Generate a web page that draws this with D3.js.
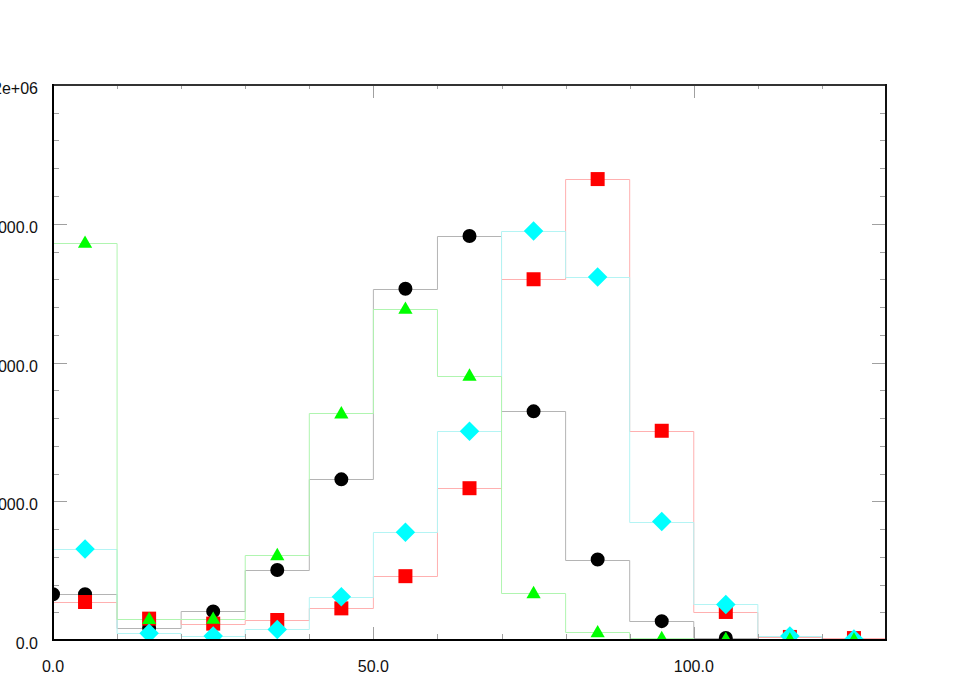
<!DOCTYPE html>
<html>
<head>
<meta charset="utf-8">
<script src="https://cdn.jsdelivr.net/npm/d3@7"></script>
<style>
  body { margin: 0; background: #fff; }
  svg { display: block; }
  .tick-label { font-family: "Liberation Sans", Arial, sans-serif; font-size: 16px; fill: #111; }
</style>
</head>
<body>
<svg id="chart" width="969" height="691"></svg>
<script>
// bin edges and centres (width 10, 0..130)
var binEdges = [0, 10, 20, 30, 40, 50, 60, 70, 80, 90, 100, 110, 120, 130];
var binCenters = [5, 15, 25, 35, 45, 55, 65, 75, 85, 95, 105, 115, 125];

var blackValues = [165000, 44000, 103000, 252000, 579000, 1266000, 1456000, 824000, 290000, 68000, 7000, 2000, 1000];
var redValues   = [137000, 77000, 59000, 72000, 114000, 230000, 547000, 1300000, 1661000, 754000, 101000, 11000, 7000];
var greenValues = [1432000, 76000, 77000, 306000, 817000, 1194000, 953000, 169000, 28000, 7000, 4000, 2000, 2000];
var cyanValues  = [328000, 24000, 14000, 38000, 156000, 388000, 752000, 1474000, 1308000, 427000, 128000, 14000, 4000];

// extra black point sitting on the left frame
var blackEdgeX = [0];
var blackEdgeY = [165000];

var xTickValues = [0, 50, 100];
var xTickLabels = ["0.0", "50.0", "100.0"];
var yTickValues = [0, 500000, 1000000, 1500000, 2000000];
var yTickLabels = ["0.0", "500000.0", "1000000.0", "1500000.0", "2e+06"];

var svg = d3.select('#chart');
var padding = {t: 85, r: 83, b: 51, l: 53};
var svgWidth = +svg.attr('width');
var svgHeight = +svg.attr('height');
var chartWidth = svgWidth - padding.l - padding.r;
var chartHeight = svgHeight - padding.t - padding.b;

var xScale = d3.scaleLinear().domain([0, 130]).range([0, chartWidth]);
var yScale = d3.scaleLinear().domain([0, 2000000]).range([chartHeight, 0]);

svg.append("defs").append("clipPath")
    .attr("id", "clip")
    .append("rect")
    .attr("width", chartWidth)
    .attr("height", chartHeight);

var chart = svg.append('g')
    .attr('transform', 'translate(' + [padding.l, padding.t] + ')');

// diamond = square turned by 45 degrees
var series = [
  {name: 'black', values: blackValues, line: '#b4b4b4', fill: '#000000', shape: d3.symbolCircle, size: 154, rot: 0},
  {name: 'red',   values: redValues,   line: '#ffb0b0', fill: '#ff0000', shape: d3.symbolSquare, size: 196, rot: 0},
  {name: 'cyan',  values: cyanValues,  line: '#b4f4f4', fill: '#00ffff', shape: d3.symbolSquare, size: 190, rot: 45},
  {name: 'green', values: greenValues, line: '#b0f5b0', fill: '#00ff00', shape: d3.symbolTriangle, size: 88, rot: 0}
];

var plot = chart.append('g').attr('clip-path', 'url(#clip)');

// ticks (drawn inside the frame)
function minorTicks(lo, hi, step) {
  var out = [];
  for (var v = lo; v <= hi + 1e-9; v += step) out.push(v);
  return out;
}
var xMinor = minorTicks(0, 130, 10);
var yMinor = minorTicks(0, 2000000, 100000);
var tickColor = '#a0a0a0';

var ticks = chart.append('g').attr('class', 'ticks').attr('stroke', tickColor).attr('stroke-width', 1);
xMinor.forEach(function(v) {
  var big = xTickValues.indexOf(v) >= 0 ? 13 : 6;
  var x = Math.round(xScale(v)) + 0.5;
  ticks.append('line').attr('x1', x).attr('x2', x).attr('y1', chartHeight).attr('y2', chartHeight - big);
  ticks.append('line').attr('x1', x).attr('x2', x).attr('y1', 0).attr('y2', big === 13 ? 13 : 4);
});
yMinor.forEach(function(v) {
  var big = yTickValues.indexOf(v) >= 0 ? 14 : 6;
  var y = Math.round(yScale(v)) + 0.5;
  ticks.append('line').attr('x1', 0).attr('x2', big).attr('y1', y).attr('y2', y);
  ticks.append('line').attr('x1', chartWidth).attr('x2', chartWidth - big).attr('y1', y).attr('y2', y);
});

// step outlines
series.forEach(function(s) {
  var pts = s.values.map(function(v, i) { return [binEdges[i], v]; });
  pts.push([binEdges[binEdges.length - 1], s.values[s.values.length - 1]]);
  plot.append('path')
    .datum(pts)
    .attr('fill', 'none')
    .attr('stroke', s.line)
    .attr('stroke-width', 1)
    .attr('d', d3.line()
      .curve(d3.curveStepAfter)
      .x(function(d) { return xScale(d[0]); })
      .y(function(d) { return Math.round(yScale(d[1])) + 0.5; }));
});

// markers
series.forEach(function(s) {
  var sym = d3.symbol().type(s.shape).size(s.size);
  plot.selectAll('.m-' + s.name)
    .data(s.values)
    .enter()
    .append('path')
    .attr('class', 'm-' + s.name)
    .attr('d', sym)
    .attr('fill', s.fill)
    .attr('transform', function(d, i) {
      var dy = s.shape === d3.symbolTriangle ? 1 : 0;
      return 'translate(' + [xScale(binCenters[i]), yScale(d) + dy] + ') rotate(' + s.rot + ')';
    });
  if (s.name === 'black') {
    plot.selectAll('.edge')
      .data(blackEdgeX)
      .enter()
      .append('path')
      .attr('d', sym)
      .attr('fill', s.fill)
      .attr('transform', function(d, i) { return 'translate(' + [xScale(d), yScale(blackEdgeY[i])] + ')'; });
  }
});

// frame
chart.append('line').attr('x1', 0).attr('x2', chartWidth).attr('y1', 0).attr('y2', 0)
  .attr('stroke', '#333').attr('stroke-width', 2);
chart.append('line').attr('x1', chartWidth).attr('x2', chartWidth).attr('y1', -1).attr('y2', chartHeight + 1)
  .attr('stroke', '#111').attr('stroke-width', 2);
chart.append('line').attr('x1', 0).attr('x2', 0).attr('y1', -1).attr('y2', chartHeight + 1)
  .attr('stroke', '#000').attr('stroke-width', 2);
chart.append('line').attr('x1', -1).attr('x2', chartWidth + 1).attr('y1', chartHeight).attr('y2', chartHeight)
  .attr('stroke', '#000').attr('stroke-width', 2);

// tick labels
chart.selectAll('.xlab')
  .data(xTickValues)
  .enter()
  .append('text')
  .attr('class', 'tick-label')
  .attr('text-anchor', 'middle')
  .attr('x', function(d) { return xScale(d); })
  .attr('y', chartHeight + 32)
  .text(function(d, i) { return xTickLabels[i]; });

chart.selectAll('.ylab')
  .data(yTickValues)
  .enter()
  .append('text')
  .attr('class', 'tick-label')
  .attr('text-anchor', 'end')
  .attr('x', -15)
  .attr('y', function(d) { return yScale(d) + 9; })
  .text(function(d, i) { return yTickLabels[i]; });
</script>
</body>
</html>
